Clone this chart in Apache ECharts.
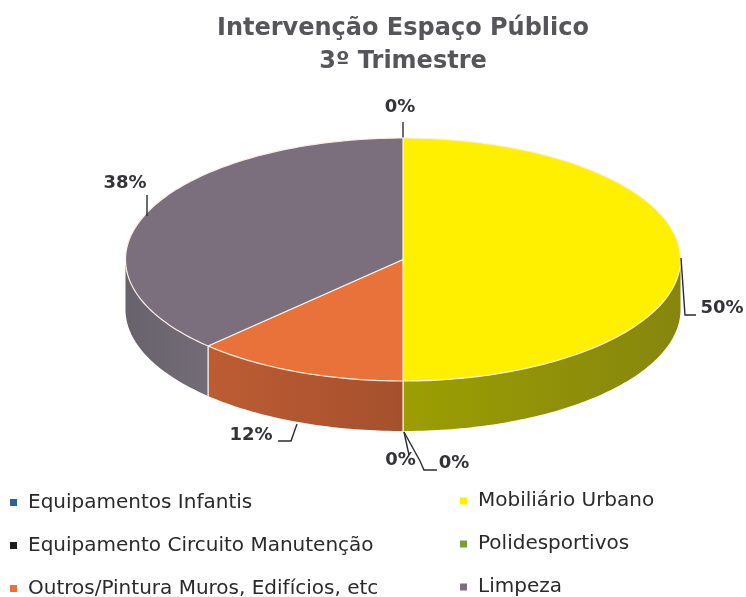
<!DOCTYPE html>
<html><head><meta charset="utf-8">
<script src="https://cdn.jsdelivr.net/npm/echarts@6/dist/echarts.min.js"></script>
<style>html,body{margin:0;padding:0;background:#fff}#c{width:746px;height:597px}</style>
</head><body><div id="c"></div>
<script>
const titleLines = ['Intervenção Espaço Público', '3º Trimestre'];
const categories = ['Equipamentos Infantis', 'Mobiliário Urbano', 'Polidesportivos', 'Equipamento Circuito Manutenção', 'Outros/Pintura Muros, Edifícios, etc', 'Limpeza'];
const values = [0, 50, 0, 0, 12.4, 37.6];
const legendLeft = [categories[0], categories[3], categories[4]];
const legendRight = [categories[1], categories[2], categories[5]];

// styling and layout
const colors = ['#2f5f9f', '#fff000', '#7d9a3a', '#1c1c1c', '#e8723a', '#7b6f7d'];
const sideColors = [null, ['#9c9e02', '#86860e'], null, null, ['#bd5c33', '#a5502d'], ['#68626c', '#736c76']];
const CX = 403, CY = 259.5, RX = 277.5, RY = 121.5, DEPTH = 50;
const leaders = [
  {pts: [[403, 122], [403, 138]], tx: 400, ty: 107},
  {pts: [[681, 258], [685, 315], [696, 315]], tx: 722, ty: 308},
  {pts: [[404, 432], [420, 461], [424, 470], [437, 470]], tx: 454, ty: 463},
  {pts: [[404, 432], [409, 455]], tx: 400.5, ty: 460},
  {pts: [[297, 424], [291, 441], [278, 441]], tx: 251, ty: 435},
  {pts: [[147, 216], [147, 195]], tx: 125, ty: 183}
];
const total = values.reduce((a, b) => a + b, 0);
const labelFont = '"DejaVu Sans", sans-serif';

function point(frac, dy) {
  const a = frac * 2 * Math.PI;
  return [CX + RX * Math.sin(a), CY - RY * Math.cos(a) + (dy || 0)];
}
function arc(f0, f1, dy) {
  const pts = [], n = Math.max(2, Math.ceil((f1 - f0) * 360));
  for (let i = 0; i <= n; i++) pts.push(point(f0 + (f1 - f0) * i / n, dy));
  return pts;
}

function makeRender(idx) {
  return function (params, api) {
    const v = api.value(0);
    const f0 = values.slice(0, idx).reduce((a, b) => a + b, 0) / total;
    const f1 = f0 + v / total;
    const children = [];
    if (v > 0) {
      const s0 = Math.max(f0, 0.25), s1 = Math.min(f1, 0.75);
      if (s1 > s0) {
        const rim = arc(s0, s1, 0).concat(arc(s0, s1, DEPTH).reverse());
        children.push({
          type: 'polygon', shape: {points: rim},
          style: {
            fill: {type: 'linear', x: 0, y: 0, x2: 1, y2: 0, colorStops: [
              {offset: 0, color: sideColors[idx][0]}, {offset: 1, color: sideColors[idx][1]}]}
          }
        });
        [s0, s1].forEach(function (s) {
          if (s > 0.25 && s < 0.75) {
            children.push({
              type: 'polyline', shape: {points: [point(s, 0), point(s, DEPTH)]},
              style: {fill: null, stroke: '#f4e9e0', lineWidth: 1.2}
            });
          }
        });
      }
      const top = [[CX, CY]].concat(arc(f0, f1, 0));
      children.push({
        type: 'polygon', shape: {points: top},
        style: {fill: colors[idx], stroke: '#fbefe6', lineWidth: 1.2}
      });
    }
    const L = leaders[idx];
    children.push({
      type: 'polyline', shape: {points: L.pts},
      style: {fill: null, stroke: '#2b2b33', lineWidth: 1.4}
    });
    children.push({
      type: 'text',
      style: {
        x: L.tx, y: L.ty, text: Math.round(v / total * 100) + '%',
        fill: '#333338', font: 'bold 18px ' + labelFont, align: 'center', verticalAlign: 'middle'
      }
    });
    return {type: 'group', children};
  };
}

const chart = echarts.init(document.getElementById('c'), null, {renderer: 'canvas'});
const legendBase = {
  orient: 'vertical', icon: 'rect', itemWidth: 7, itemHeight: 7, itemGap: 18, padding: 0, height: 130, width: 400,
  selectedMode: false,
  textStyle: {fontFamily: labelFont, fontSize: 20, color: '#2a2a2a', padding: [0, 0, 0, 6], lineHeight: 25}
};
chart.setOption({
  animation: false,
  backgroundColor: '#fff',
  title: {
    text: titleLines.join('\n'), left: 398, top: 7, textAlign: 'center',
    textStyle: {fontFamily: labelFont, fontWeight: 'bold', fontSize: 24, color: '#55555a', lineHeight: 33}
  },
  legend: [
    Object.assign({}, legendBase, {data: legendLeft, left: 10, top: 490}),
    Object.assign({}, legendBase, {data: legendRight, left: 460, top: 488.5})
  ],
  series: categories.map((name, i) => ({
    type: 'custom', name, coordinateSystem: 'none',
    itemStyle: {color: colors[i]},
    renderItem: makeRender(i),
    data: [[values[i]]],
    silent: true
  }))
});
</script></body></html>
